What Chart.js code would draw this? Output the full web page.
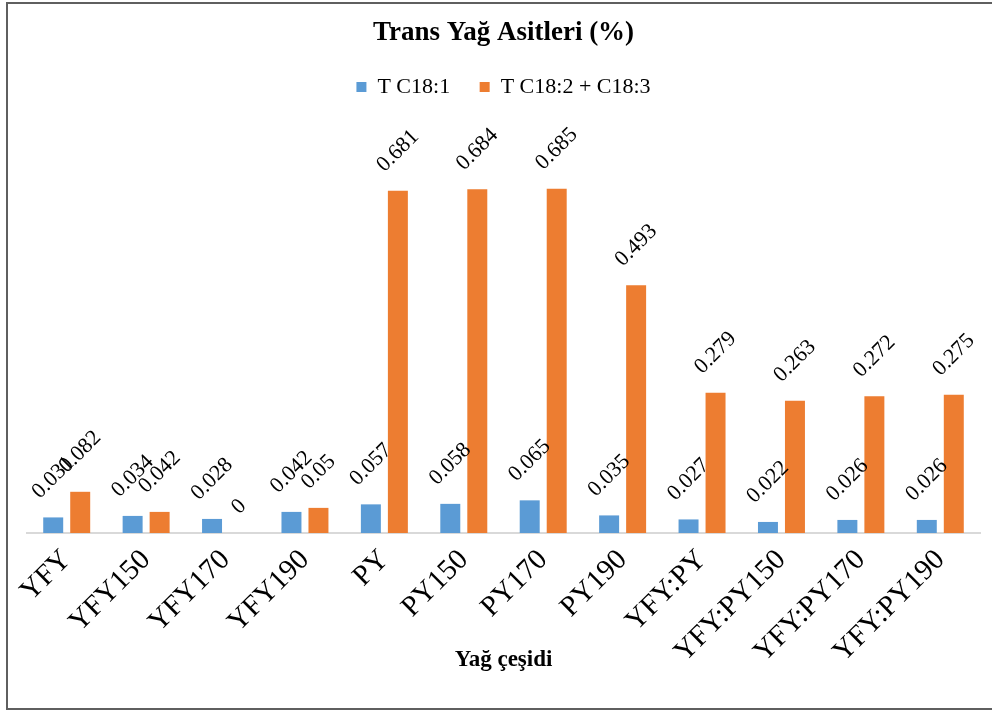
<!DOCTYPE html>
<html>
<head>
<meta charset="utf-8">
<script src="https://cdn.jsdelivr.net/npm/chart.js@4.4.1/dist/chart.umd.min.js"></script>
<style>
html,body{margin:0;padding:0;background:#fff;}
canvas{display:block;}
</style>
</head>
<body>
<canvas id="c" width="995" height="711"></canvas>
<script>
const categories = ['YFY','YFY150','YFY170','YFY190','PY','PY150','PY170','PY190','YFY:PY','YFY:PY150','YFY:PY170','YFY:PY190'];
const tC181 = [0.031,0.034,0.028,0.042,0.057,0.058,0.065,0.035,0.027,0.022,0.026,0.026];
const tC182_183 = [0.082,0.042,0,0.05,0.681,0.684,0.685,0.493,0.279,0.263,0.272,0.275];
const seriesNames = ['T C18:1','T C18:2 + C18:3'];

const FONT = '"Liberation Serif", "Times New Roman", serif';

const framePlugin = {
  id: 'frame',
  beforeDraw(chart) {
    const ctx = chart.ctx;
    ctx.save();
    ctx.fillStyle = '#fff';
    ctx.fillRect(0, 0, chart.width, chart.height);
    ctx.strokeStyle = '#5f5f5f';
    ctx.lineWidth = 2;
    ctx.beginPath();
    ctx.moveTo(992, 3);
    ctx.lineTo(7, 3);
    ctx.lineTo(7, 709);
    ctx.lineTo(992, 709);
    ctx.stroke();
    ctx.restore();
  }
};

const valueLabels = {
  id: 'valueLabels',
  afterDatasetsDraw(chart) {
    const ctx = chart.ctx;
    ctx.save();
    ctx.font = '22px ' + FONT;
    ctx.fillStyle = '#000';
    ctx.textAlign = 'center';
    ctx.textBaseline = 'middle';
    chart.data.datasets.forEach((ds, i) => {
      chart.getDatasetMeta(i).data.forEach((bar, j) => {
        const txt = String(ds.data[j]);
        const w = ctx.measureText(txt).width;
        const h = 15;
        const d = (w + h) * Math.SQRT1_2 / 2;
        ctx.save();
        ctx.translate(bar.x, bar.y - 17 - d);
        ctx.rotate(-Math.PI / 4);
        ctx.fillText(txt, 0, 0);
        ctx.restore();
      });
    });
    ctx.restore();
  }
};

new Chart(document.getElementById('c'), {
  type: 'bar',
  data: {
    labels: categories,
    datasets: [
      { label: seriesNames[0], data: tC181, backgroundColor: '#5B9BD5', categoryPercentage: 0.68, barPercentage: 0.74 },
      { label: seriesNames[1], data: tC182_183, backgroundColor: '#ED7D31', categoryPercentage: 0.68, barPercentage: 0.74 }
    ]
  },
  options: {
    responsive: false,
    animation: false,
    layout: { padding: { left: 27, right: 15, top: 0, bottom: 33 } },
    plugins: {
      title: {
        display: true,
        text: 'Trans Yağ Asitleri (%)',
        color: '#000',
        font: { family: FONT, size: 27, weight: 'bold', lineHeight: 1 },
        padding: { top: 19.5, bottom: 0 }
      },
      subtitle: {
        display: true,
        text: '',
        weight: 500,
        font: { size: 1, lineHeight: 1 },
        padding: { top: 22, bottom: 0 }
      },
      legend: {
        display: true,
        labels: {
          color: '#000',
          font: { family: FONT, size: 22 },
          boxWidth: 10,
          boxHeight: 10,
          padding: 29.5
        }
      },
      tooltip: { enabled: false }
    },
    scales: {
      x: {
        grid: { display: false },
        border: { display: true, color: '#d9d9d9', width: 2 },
        ticks: {
          color: '#000',
          font: { family: FONT, size: 29 },
          minRotation: 45,
          maxRotation: 45,
          autoSkip: false,
          padding: 2
        },
        title: {
          display: true,
          text: 'Yağ çeşidi',
          color: '#000',
          font: { family: FONT, size: 23, weight: 'bold' },
          padding: { top: 0, bottom: 4 }
        },
        afterFit(scale) { scale.height = 145; }
      },
      y: {
        display: false,
        min: 0,
        max: 0.8
      }
    }
  },
  plugins: [framePlugin, valueLabels]
});
</script>
</body>
</html>
